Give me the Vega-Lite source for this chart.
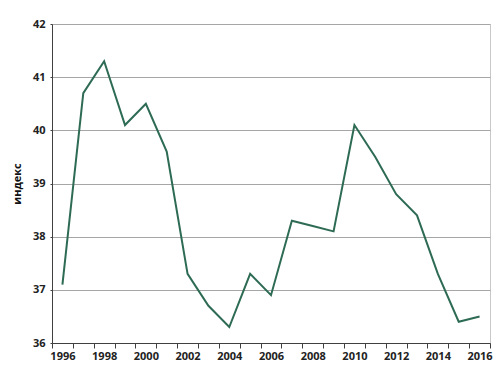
{
  "$schema": "https://vega.github.io/schema/vega-lite/v6.json",
  "width": 438,
  "height": 319,
  "autosize": {"type": "none"},
  "padding": {"left": 52, "top": 24, "right": 10, "bottom": 28},
  "background": "white",
  "config": {
    "view": {"stroke": "#c8c8c8", "strokeWidth": 1},
    "font": "Open Sans"
  },
  "data": {
    "values": [
      {"year": "1996", "value": 37.1},
      {"year": "1997", "value": 40.7},
      {"year": "1998", "value": 41.3},
      {"year": "1999", "value": 40.1},
      {"year": "2000", "value": 40.5},
      {"year": "2001", "value": 39.6},
      {"year": "2002", "value": 37.3},
      {"year": "2003", "value": 36.7},
      {"year": "2004", "value": 36.3},
      {"year": "2005", "value": 37.3},
      {"year": "2006", "value": 36.9},
      {"year": "2007", "value": 38.3},
      {"year": "2008", "value": 38.2},
      {"year": "2009", "value": 38.1},
      {"year": "2010", "value": 40.1},
      {"year": "2011", "value": 39.5},
      {"year": "2012", "value": 38.8},
      {"year": "2013", "value": 38.4},
      {"year": "2014", "value": 37.3},
      {"year": "2015", "value": 36.4},
      {"year": "2016", "value": 36.5}
    ]
  },
  "mark": {"type": "line", "color": "#2e6b54", "strokeWidth": 2},
  "encoding": {
    "x": {
      "field": "year",
      "type": "ordinal",
      "scale": {"type": "band", "paddingInner": 0, "paddingOuter": 0},
      "axis": {
        "title": null,
        "labelAngle": 0,
        "labelExpr": "toNumber(datum.value) % 2 == 0 ? datum.value : ''",
        "tickBand": "extent",
        "grid": false,
        "domainColor": "#404040",
        "tickColor": "#404040",
        "tickSize": 5,
        "labelFont": "Open Sans",
        "labelFontSize": 11,
        "labelFontWeight": "bold",
        "labelColor": "#222222",
        "labelPadding": 2
      }
    },
    "y": {
      "field": "value",
      "type": "quantitative",
      "scale": {"domain": [36, 42], "nice": false, "zero": false},
      "axis": {
        "title": "индекс",
        "titleFont": "Open Sans",
        "titleFontSize": 11,
        "titleFontWeight": "bold",
        "titleColor": "#111111",
        "titlePadding": 10,
        "values": [36, 37, 38, 39, 40, 41, 42],
        "grid": true,
        "gridColor": "#a6a6a6",
        "gridWidth": 1,
        "domainColor": "#404040",
        "tickColor": "#404040",
        "tickSize": 2,
        "labelFont": "Open Sans",
        "labelFontSize": 11,
        "labelFontWeight": "bold",
        "labelColor": "#222222",
        "labelPadding": 5
      }
    }
  }
}
